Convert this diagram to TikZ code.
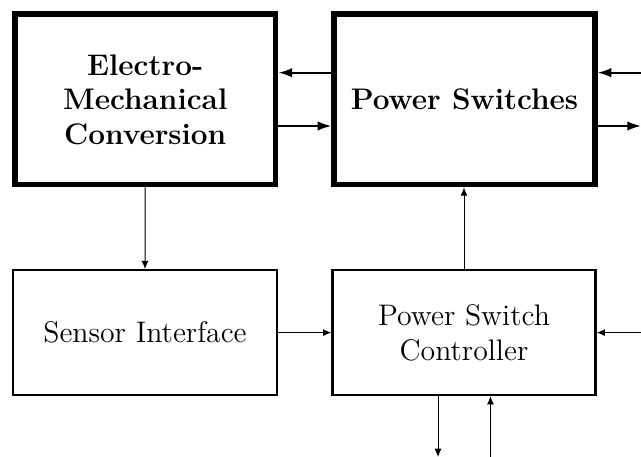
\documentclass[tikz,border=0pt]{standalone}
\usetikzlibrary{arrows.meta}
\begin{document}
\begin{tikzpicture}[x=0.4pt,y=-0.4pt,
  bigbox/.style={draw,line width=2.3pt,inner sep=0pt,align=center,
    font=\fontsize{11.9}{13.8}\selectfont\bfseries},
  smallbox/.style={draw,line width=0.9pt,inner sep=0pt,align=center,
    font=\fontsize{11.9}{14.2}\selectfont},
  thkarrow/.style={line width=0.8pt,-{Latex[length=5.5pt,width=3.8pt]}},
  thnarrow/.style={line width=0.4pt,-{Latex[length=3.3pt,width=2.8pt]}}]
\useasboundingbox (0,0) rectangle (641,457);
\node[bigbox,minimum width=104.3pt,minimum height=68.1pt] (emc) at (145.2,99.5)
  {Electro-\\Mechanical\\Conversion};
\node[bigbox,minimum width=104.2pt,minimum height=68.1pt] (ps) at (464.5,99.5)
  {Power Switches};
\node[smallbox,minimum width=105.4pt,minimum height=49.9pt] (si) at (145,332.6)
  {Sensor Interface};
\node[smallbox,minimum width=105.2pt,minimum height=49.9pt] (psc) at (464,332.6)
  {Power Switch\\Controller};
\coordinate (yA) at (0,72.7);
\coordinate (yB) at (0,126);
\coordinate (rA) at (641,72.7);
\coordinate (rB) at (641,126);
\coordinate (rC) at (641,332.6);
\coordinate (bD) at (438,457);
\coordinate (bU) at (490.5,457);
\draw[thkarrow] (ps.west |- yA) -- (emc.east |- yA);
\draw[thkarrow] (emc.east |- yB) -- (ps.west |- yB);
\draw[thkarrow] (rA) -- (ps.east |- rA);
\draw[thkarrow] (ps.east |- rB) -- (rB);
\draw[thnarrow] (emc.south) -- (si.north);
\draw[thnarrow] (psc.north) -- (ps.south -| psc.north);
\draw[thnarrow] (si.east) -- (psc.west);
\draw[thnarrow] (rC) -- (psc.east);
\draw[thnarrow] (psc.south -| bD) -- (bD);
\draw[thnarrow] (bU) -- (psc.south -| bU);
\end{tikzpicture}
\end{document}
